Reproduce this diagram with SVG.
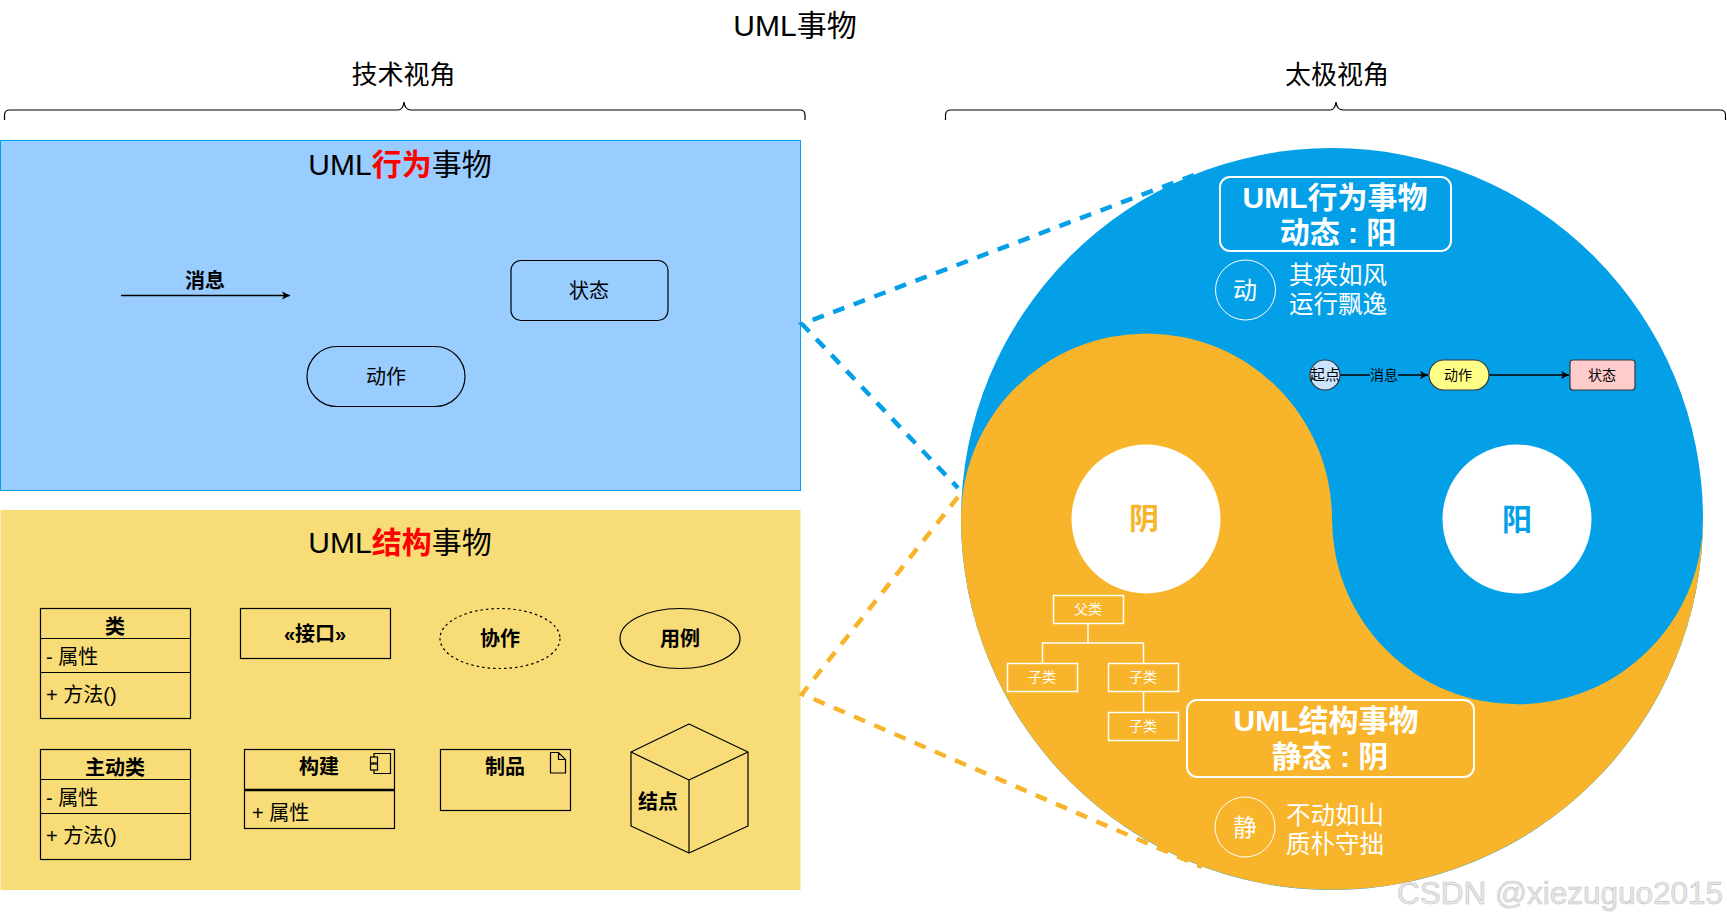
<svg xmlns="http://www.w3.org/2000/svg" width="1727" height="923" viewBox="0 0 1727 923">
<style>
text{font-family:"Liberation Sans","Noto Sans CJK SC",sans-serif;fill:#000;text-anchor:middle}
.s{fill:none;stroke:#000;stroke-width:1.2}
.t19{font-size:20px}
.b{font-size:20px;font-weight:bold}
.l{text-anchor:start;font-size:20px}
.red{fill:#f00;font-weight:bold}
.w{fill:#fff}
.wb{fill:#fff;font-size:30px;font-weight:bold}
.wt{fill:#fff;font-size:24.500px;text-anchor:start}
.box{fill:none;stroke:#fff;stroke-width:2}
.thin{fill:none;stroke:#fff;stroke-width:1.5}
.small{font-size:14px}
.dark{stroke:#36393d;stroke-width:1.2}
.dblue{fill:none;stroke:#03A0E8;stroke-width:4.500;stroke-dasharray:12 10}
.dyel{fill:none;stroke:#F8B42A;stroke-width:4.500;stroke-dasharray:12 10}
.con{fill:none;stroke:#000;stroke-width:1.3}
</style>
<defs>
<marker id="arr" markerUnits="userSpaceOnUse" markerWidth="10" markerHeight="10" refX="8" refY="5" orient="auto">
<path d="M0 1 L8 5 L0 9 L2 5 Z" fill="#000"/>
</marker>
</defs>

<g id="titles">
<text x="795" y="36" font-size="30">UML事物</text>
<text x="403.500" y="84" font-size="26">技术视角</text>
<text x="1337" y="84" font-size="26">太极视角</text>
</g>
<g id="brace-left"><path class="s" d="M4.500 120 V115 Q4.500 110 10 110 H398 Q403 110 404 102 Q405 110 411 110 H800 Q805 110 805 115 V120"/></g>
<g id="brace-right"><path class="s" d="M945.500 120 V115 Q945.500 110 951 110 H1330 Q1335 110 1336 102 Q1337 110 1343 110 H1720 Q1725.500 110 1725.500 115 V120"/></g>

<g id="panel-behavior">
<rect x="0.500" y="140.500" width="800" height="350" fill="#99CCFF" stroke="#03A0E8"/>
<text x="400" y="175" font-size="30">UML<tspan class="red">行为</tspan>事物</text>
</g>
<g id="node-state"><rect class="s" x="511" y="260.500" width="157" height="60" rx="10"/><text class="t19" x="589" y="298">状态</text></g>
<g id="node-action"><rect class="s" x="307" y="346.500" width="158" height="60" rx="30"/><text class="t19" x="386" y="384">动作</text></g>
<g id="node-message"><text class="b" x="205" y="288">消息</text></g>

<g id="panel-structure">
<rect x="0.500" y="510" width="800" height="380" fill="#F7DC78"/>
<text x="400" y="553" font-size="30">UML<tspan class="red">结构</tspan>事物</text>
</g>
<g id="node-class">
<rect class="s" x="40.500" y="608.500" width="150" height="110"/><path class="s" d="M40.500 638.500 H190.500 M40.500 672.500 H190.500"/>
<text class="b" x="115" y="634">类</text><text class="l" x="46" y="664">- 属性</text><text class="l" x="46" y="702">+ 方法()</text>
</g>
<g id="node-interface"><rect class="s" x="240.500" y="608.500" width="150" height="50"/><text class="b" x="315" y="641">«接口»</text></g>
<g id="node-collab"><ellipse cx="500" cy="638.500" rx="60" ry="30" fill="none" stroke="#000" stroke-width="1.200" stroke-dasharray="2.500 3"/><text class="b" x="500" y="646">协作</text></g>
<g id="node-usecase"><ellipse class="s" cx="680" cy="638.500" rx="60" ry="30"/><text class="b" x="680" y="646">用例</text></g>
<g id="node-active">
<rect class="s" x="40.500" y="749.500" width="150" height="110"/><path class="s" d="M40.500 779.500 H190.500 M40.500 813.500 H190.500"/>
<text class="b" x="115" y="775">主动类</text><text class="l" x="46" y="805">- 属性</text><text class="l" x="46" y="843">+ 方法()</text>
</g>
<g id="node-component">
<rect class="s" x="244.500" y="749.500" width="150" height="79"/><path d="M244.500 790 H394.500" stroke="#000" stroke-width="2.500" fill="none"/>
<text class="b" x="319" y="774">构建</text><text class="l" x="252" y="820">+ 属性</text>
<path class="s" d="M374 757 V753.500 H390.500 V773.500 H374 V770 M374 764 V763"/>
<rect class="s" x="370.500" y="757" width="7" height="6"/><rect class="s" x="370.500" y="764" width="7" height="6"/>
</g>
<g id="node-artifact">
<rect class="s" x="440.500" y="749.500" width="130" height="61"/><text class="b" x="505" y="774">制品</text>
<path class="s" d="M550.500 752.500 H558.500 L565.500 759.500 V773 H550.500 Z M558.500 752.500 V759.500 H565.500"/>
</g>
<g id="node-device">
<path class="s" d="M689 724 L748 752 V826 L689 853 L631 826 V752 Z M631 752 L689 780 L748 752 M689 780 V853" stroke-linejoin="round"/>
<text class="b" x="658" y="809">结点</text>
</g>

<g id="taiji">
<circle cx="1332" cy="519" r="371" fill="#03A0E8"/>
<path d="M961 519 A185.500 185.500 0 0 1 1332 519 A185.500 185.500 0 0 0 1703 519 A371 371 0 0 1 961 519 Z" fill="#F8B42A"/>
<circle cx="1146" cy="519" r="74.500" fill="#fff"/>
<circle cx="1517" cy="519" r="74.500" fill="#fff"/>
<text x="1144" y="529" font-size="30" font-weight="bold" style="fill:#F8B42A">阴</text>
<text x="1517" y="530" font-size="30" font-weight="bold" style="fill:#03A0E8">阳</text>
</g>
<g id="label-yang">
<rect class="box" x="1220" y="177" width="231" height="74" rx="10"/>
<text class="wb" x="1335" y="208">UML行为事物</text>
<text class="wb" x="1338" y="243">动态 : 阳</text>
</g>
<g id="badge-dong">
<circle class="thin" cx="1245.500" cy="290" r="30" style="stroke-width:1"/>
<text class="w" x="1245" y="299" font-size="24">动</text>
<text class="wt" x="1289" y="284">其疾如风</text><text class="wt" x="1289" y="313">运行飘逸</text>
</g>
<g id="label-yin">
<rect class="box" x="1187" y="700" width="287" height="77" rx="10"/>
<text class="wb" x="1326" y="731">UML结构事物</text>
<text class="wb" x="1330" y="767">静态 : 阴</text>
</g>
<g id="badge-jing">
<circle class="thin" cx="1245" cy="827" r="30" style="stroke-width:1"/>
<text class="w" x="1245" y="836" font-size="24">静</text>
<text class="wt" x="1286" y="824">不动如山</text><text class="wt" x="1286" y="853">质朴守拙</text>
</g>

<g id="connectors">
<path class="con" d="M121 295.500 H290" marker-end="url(#arr)"/>
<path class="dblue" d="M1194 175 L802 324 L958 488"/>
<path class="dyel" d="M958 497 L802 694 L1202 867"/>
<path class="con" d="M1340 375 H1428" marker-end="url(#arr)"/>
<path class="con" d="M1489 375 H1569" marker-end="url(#arr)"/>
<path class="thin" d="M1088 623 V643 M1042.500 663 V643 H1143.500 V663 M1143.500 691 V712"/>
</g>

<g id="flow-start"><circle class="dark" cx="1325" cy="375" r="15" fill="#CCE5FF"/><text class="small" x="1325" y="380" style="font-size:15px">起点</text></g>
<g id="flow-label"><rect x="1370" y="367" width="28" height="16" fill="#03A0E8"/><text class="small" x="1384" y="380">消息</text></g>
<g id="flow-action"><rect class="dark" x="1429" y="360" width="60" height="30" rx="15" fill="#FFFF88"/><text class="small" x="1458" y="380">动作</text></g>
<g id="flow-state"><rect class="dark" x="1570" y="360" width="65" height="30" rx="3" fill="#FFCCCC"/><text class="small" x="1602" y="380">状态</text></g>

<g id="tree-parent"><rect class="thin" x="1053.500" y="595.500" width="70" height="28"/><text class="w small" x="1088" y="614">父类</text></g>
<g id="tree-child1"><rect class="thin" x="1007.500" y="663.500" width="70" height="28"/><text class="w small" x="1042" y="682">子类</text></g>
<g id="tree-child2"><rect class="thin" x="1108.500" y="663.500" width="70" height="28"/><text class="w small" x="1143" y="682">子类</text></g>
<g id="tree-child3"><rect class="thin" x="1108.500" y="712.500" width="70" height="28"/><text class="w small" x="1143" y="731">子类</text></g>

<g id="watermark"><text x="1560" y="904" font-size="31.500" style="fill:#e8e8e8;stroke:#c2c2c2;stroke-width:.6">CSDN @xiezuguo2015</text></g>
</svg>
